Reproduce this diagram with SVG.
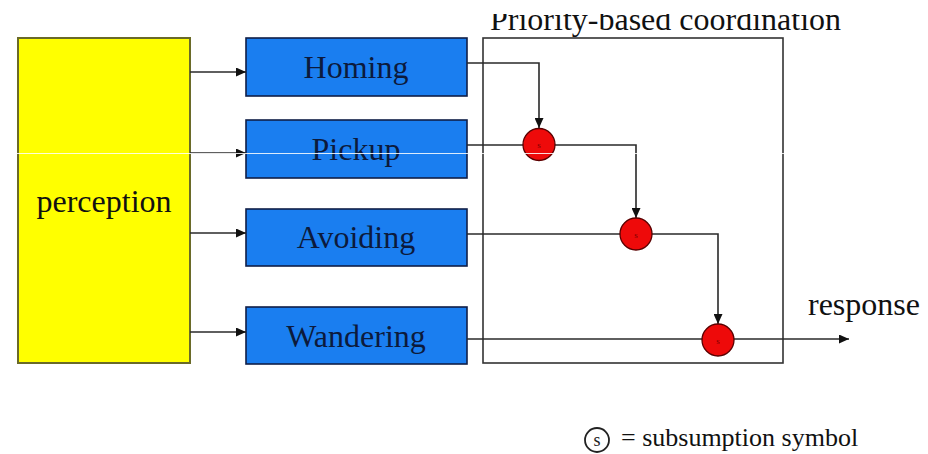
<svg xmlns="http://www.w3.org/2000/svg" width="928" height="454" viewBox="0 0 928 454">
  <style>
    .lbl { font-family: "Liberation Serif", "Times New Roman", serif; font-size: 32px; fill: #111; }
    .beh { fill: #1a7ef0; stroke: #0f1f48; stroke-width: 1.6; }
    .beh-txt { font-family: "Liberation Serif", "Times New Roman", serif; font-size: 32px; fill: #0c1a3c; text-anchor: middle; }
    .wire { fill: none; stroke: #2a2a2a; stroke-width: 1.6; }
    .sub { fill: #ee0a0a; stroke: #5a0000; stroke-width: 1.3; }
    .sub-s { font-family: "Liberation Serif", serif; font-size: 9px; fill: #7a0000; text-anchor: middle; }
  </style>
  <defs>
    <marker id="arrow" markerUnits="userSpaceOnUse" markerWidth="11" markerHeight="9" refX="10" refY="4.5" orient="auto">
      <path d="M0,0 L10,4.5 L0,9 Z" fill="#111"/>
    </marker>
    <clipPath id="titleClip">
      <rect x="470" y="14" width="420" height="28"/>
    </clipPath>
  </defs>

  <rect width="928" height="454" fill="#ffffff"/>

  <!-- coordination frame and its title -->
  <g id="coordination">
    <rect x="483" y="38" width="300" height="325" fill="none" stroke="#333" stroke-width="1.6"/>
    <text class="lbl" x="490" y="30" clip-path="url(#titleClip)">Priority-based coordination</text>
  </g>

  <g id="perception">
    <rect x="18" y="38" width="172" height="325" fill="#ffff00" stroke="#6a6a28" stroke-width="2"/>
    <text class="lbl" x="104" y="212" text-anchor="middle">perception</text>
  </g>

  <g id="homing">
    <rect class="beh" x="246" y="38" width="221" height="58"/>
    <text class="beh-txt" x="356" y="78">Homing</text>
  </g>
  <g id="pickup">
    <rect class="beh" x="246" y="120" width="221" height="58"/>
    <text class="beh-txt" x="356" y="160">Pickup</text>
  </g>
  <g id="avoiding">
    <rect class="beh" x="246" y="209" width="221" height="57"/>
    <text class="beh-txt" x="356" y="248">Avoiding</text>
  </g>
  <g id="wandering">
    <rect class="beh" x="246" y="307" width="221" height="57"/>
    <text class="beh-txt" x="356" y="347">Wandering</text>
  </g>

  <g id="connectors">
    <!-- perception feeds every behaviour -->
    <path class="wire" d="M190,72 H246" marker-end="url(#arrow)"/>
    <path class="wire" d="M190,153 H246" marker-end="url(#arrow)"/>
    <path class="wire" d="M190,233 H246" marker-end="url(#arrow)"/>
    <path class="wire" d="M190,332 H246" marker-end="url(#arrow)"/>
    <!-- priority chain -->
    <path class="wire" d="M467,63 H539 V128" marker-end="url(#arrow)"/>
    <path class="wire" d="M467,145 H523"/>
    <path class="wire" d="M555,145 H636 V218" marker-end="url(#arrow)"/>
    <path class="wire" d="M467,234 H620"/>
    <path class="wire" d="M652,234 H718 V324" marker-end="url(#arrow)"/>
    <path class="wire" d="M467,339 H849" marker-end="url(#arrow)"/>
  </g>

  <g id="s1">
    <circle class="sub" cx="539" cy="144.5" r="16"/>
    <text class="sub-s" x="539" y="148">s</text>
  </g>
  <g id="s2">
    <circle class="sub" cx="636" cy="234" r="16"/>
    <text class="sub-s" x="636" y="237.5">s</text>
  </g>
  <g id="s3">
    <circle class="sub" cx="718" cy="340" r="16"/>
    <text class="sub-s" x="718" y="343.5">s</text>
  </g>

  <g id="response">
    <text class="lbl" x="808" y="315">response</text>
  </g>

  <g id="legend">
    <circle cx="597" cy="440" r="12" fill="none" stroke="#222" stroke-width="1.8"/>
    <text x="597" y="446" text-anchor="middle" style="font-family:'Liberation Serif',serif;font-size:18px;fill:#222">s</text>
    <text x="621" y="446" style="font-family:'Liberation Serif',serif;font-size:26px;fill:#111">= subsumption symbol</text>
  </g>

  <!-- thin light scan streak across the upper half -->
  <line x1="0" y1="153.5" x2="800" y2="153.5" stroke="#ffffff" stroke-width="1.2" stroke-opacity="0.85"/>
</svg>
